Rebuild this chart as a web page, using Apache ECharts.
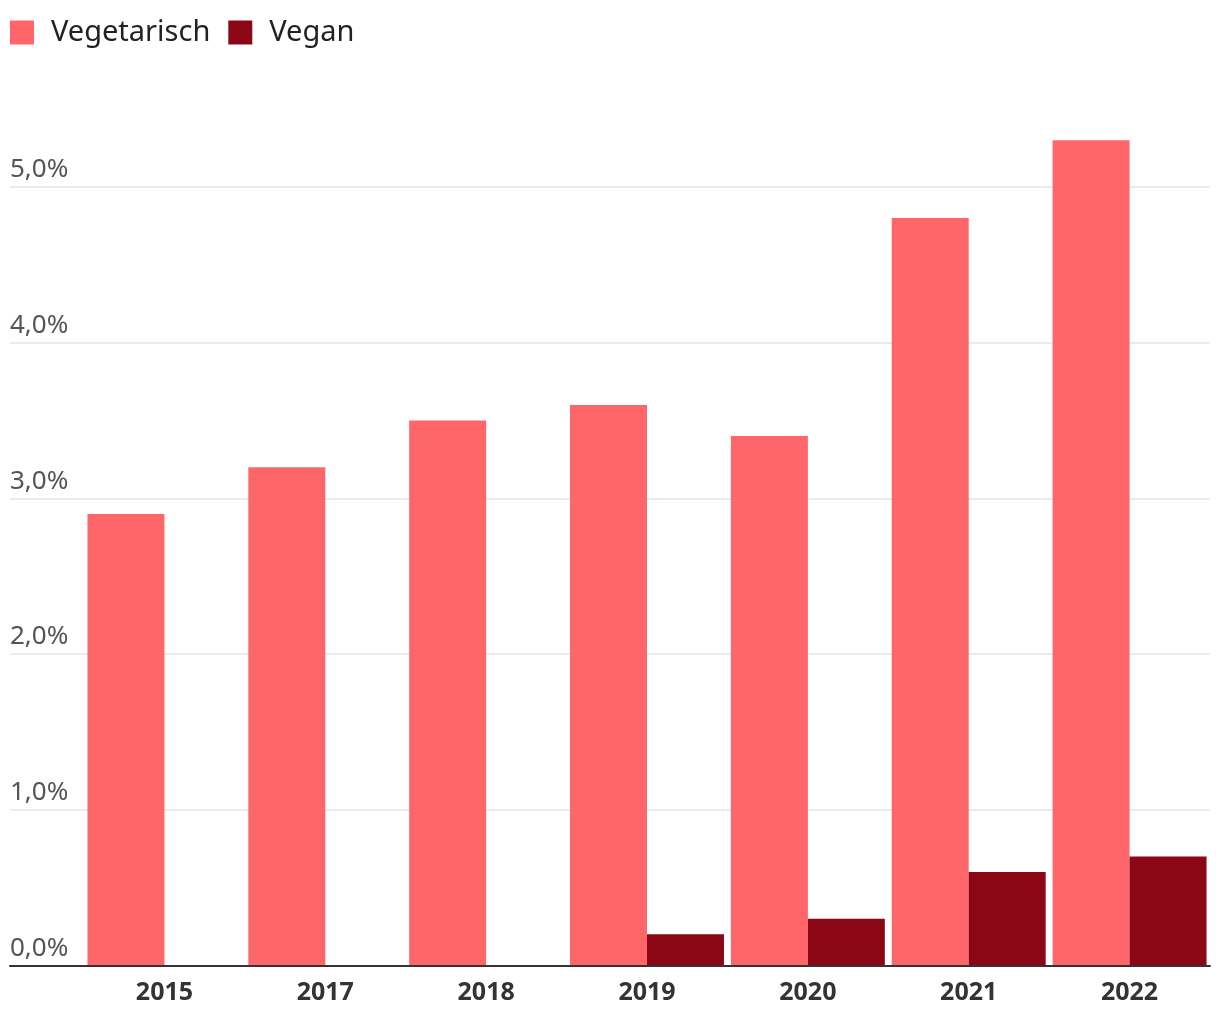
<!DOCTYPE html>
<html><head><meta charset="utf-8">
<script src="https://cdn.jsdelivr.net/npm/echarts@6/dist/echarts.min.js"></script>
<style>html,body{margin:0;padding:0;background:#fff}#c{width:1220px;height:1020px}</style>
</head><body><div id="c"></div>
<script>
var categories = ['2015','2017','2018','2019','2020','2021','2022'];
var vegetarisch = [2.9, 3.2, 3.5, 3.6, 3.4, 4.8, 5.3];
var vegan = [null, null, null, 0.2, 0.3, 0.6, 0.7];
var yTicks = [0,1,2,3,4,5];

var font = '"Noto Sans", "Open Sans", sans-serif';
var chart = echarts.init(document.getElementById('c'));
var gridTop = 109, gridBottom = 54.5;
chart.setOption({
  animation: false,
  legend: {
    left: 10, top: 18, padding: 0, itemWidth: 24, itemHeight: 24, itemGap: 18, icon: 'rect',
    textStyle: {fontFamily: font, fontSize: 29, color: '#222', padding: [0,0,0,12]},
    data: ['Vegetarisch','Vegan']
  },
  grid: [
    {left: 10, right: 10, top: gridTop, bottom: gridBottom},
    {left: 84, right: 10, top: gridTop, bottom: gridBottom}
  ],
  xAxis: [
    {type: 'category', gridIndex: 0, data: categories,
     axisLine: {show: true, lineStyle: {color: '#333', width: 2}},
     axisTick: {show: false}, axisLabel: {show: false}, z: 10},
    {type: 'category', gridIndex: 1, data: categories,
     axisLine: {show: false}, axisTick: {show: false},
     axisLabel: {fontFamily: font, fontSize: 25, fontWeight: 'bold', color: '#333', margin: 15}}
  ],
  yAxis: [
    {type: 'value', gridIndex: 0, min: 0, max: 5.5, interval: 1,
     axisLine: {show: false}, axisTick: {show: false},
     splitLine: {show: true, showMaxLine: false, lineStyle: {color: '#e4e4e4', width: 1.5}},
     axisLabel: {inside: true, margin: 0, showMaxLabel: false, verticalAlign: 'bottom',
       lineHeight: 26, padding: [0,0,4,0],
       fontFamily: font, fontSize: 26, color: '#555',
       formatter: function (v) {
         if (yTicks.indexOf(v) < 0) return '';
         return v.toFixed(1).replace('.', ',') + '%';
       }}},
    {type: 'value', gridIndex: 1, min: 0, max: 5.5, interval: 1, show: false,
     splitLine: {show: false}}
  ],
  series: [
    {name: 'Vegetarisch', type: 'bar', xAxisIndex: 1, yAxisIndex: 1, data: vegetarisch,
     barGap: '0%', barCategoryGap: '4.3%', itemStyle: {color: '#ff6669'}},
    {name: 'Vegan', type: 'bar', xAxisIndex: 1, yAxisIndex: 1, data: vegan,
     barGap: '0%', barCategoryGap: '4.3%', itemStyle: {color: '#8b0716'}}
  ]
});
</script></body></html>
